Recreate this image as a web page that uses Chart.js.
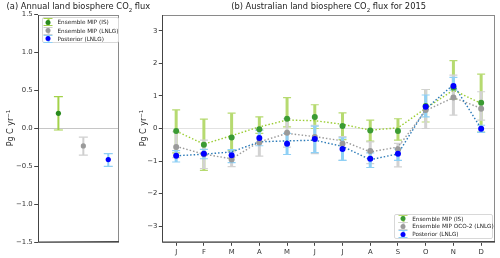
<!DOCTYPE html>
<html lang="en">
<head>
<meta charset="utf-8">
<title>Australian land biosphere CO2 flux</title>
<script src="https://cdn.jsdelivr.net/npm/chart.js"></script>
<style>
  body { margin: 0; background: #fff; font-family: "DejaVu Sans", sans-serif; color: #222; }
  #wrap { position: relative; width: 500px; height: 258px; overflow: hidden; }
  canvas { position: absolute; top: 0; }
  .title { position: absolute; font-size: 8.3px; white-space: nowrap; transform: translate(-50%, -50%); }
  .ylab { position: absolute; font-size: 8px; white-space: nowrap; transform: translate(-50%, -50%) rotate(-90deg); }
  .legend { position: absolute; border: 1px solid #d8d8d8; border-radius: 2px; background: rgba(255,255,255,0.85); box-sizing: border-box; }
  .item { position: absolute; font-size: 5.7px; white-space: nowrap; transform: translateY(-50%); }
  .mk { position: absolute; width: 9px; height: 8px; transform: translate(-50%, -50%); }
  .mk i { position: absolute; display: block; }
</style>
</head>
<body>
<div id="wrap">
  <canvas id="chartA" width="125" height="258" style="left:0"></canvas>
  <canvas id="chartB" width="375" height="258" style="left:125px"></canvas>
  <div class="title" style="left:78.4px;top:6.5px">(a) Annual land biosphere CO<sub style="font-size:5.5px">2</sub> flux</div>
  <div class="title" style="left:328.6px;top:6.5px">(b) Australian land biosphere CO<sub style="font-size:5.5px">2</sub> flux for 2015</div>
  <div class="ylab" style="left:10px;top:128px">Pg C yr<sup style="font-size:5.5px">−1</sup></div>
  <div class="ylab" style="left:143px;top:128px">Pg C yr<sup style="font-size:5.5px">−1</sup></div>
  <div class="legend" id="legA" style="left:41.7px;top:16.7px;width:77px;height:26.6px"></div>
  <div class="legend" id="legB" style="left:394.3px;top:214.3px;width:98.4px;height:25px"></div>
</div>

<script>
// ---- panel (a): annual flux ----
const annualLabels = ['Ensemble MIP (IS)', 'Ensemble MIP (LNLG)', 'Posterior (LNLG)'];
const annualVals = [0.20, -0.23, -0.41];
const annualLo = [-0.02, -0.35, -0.50];
const annualHi = [0.42, -0.115, -0.33];
const annualTicks = [-1.5, -1.0, -0.5, 0.0, 0.5, 1.0, 1.5];

// ---- panel (b): monthly flux 2015 ----
const months = ['J', 'F', 'M', 'A', 'M', 'J', 'J', 'A', 'S', 'O', 'N', 'D'];
const monthlyLabels = ['Ensemble MIP (IS)', 'Ensemble MIP OCO-2 (LNLG)', 'Posterior (LNLG)'];
const isPoint = [-0.08, -0.50, -0.28, -0.02, 0.30, 0.35, 0.08, -0.06, -0.08, 0.69, 1.26, 0.79];
const isLo    = [-0.75, -1.29, -0.67, -0.15, 0.05, 0.00, -0.34, -0.39, -0.36, 0.20, 0.90, -0.11];
const isHi    = [0.57, 0.29, 0.47, 0.36, 0.95, 0.73, 0.48, 0.26, 0.30, 1.20, 2.09, 1.67];
const isLine  = [-0.08, -0.48, -0.22, 0.05, 0.26, 0.24, 0.13, -0.05, 0.02, 0.62, 1.18, 0.77];
const ocoPoint = [-0.57, -0.79, -0.95, -0.43, -0.13, -0.26, -0.47, -0.69, -0.64, 0.57, 0.95, 0.61];
const ocoLo    = [-0.90, -1.23, -1.17, -0.85, -0.57, -0.77, -0.98, -1.08, -1.18, 0.00, 0.41, 0.26];
const ocoHi    = [-0.10, -0.36, -0.72, -0.05, 0.30, 0.10, -0.25, -0.41, -0.46, 1.20, 1.64, 1.13];
const ocoLine  = [-0.55, -0.79, -0.93, -0.41, -0.15, -0.25, -0.38, -0.72, -0.57, 0.55, 0.95, 0.62];
const postPoint = [-0.84, -0.78, -0.82, -0.29, -0.47, -0.32, -0.63, -0.93, -0.78, 0.67, 1.31, -0.01];
const postLo    = [-1.03, -0.93, -1.05, -0.53, -0.80, -0.74, -0.98, -1.20, -0.98, 0.36, 1.18, -0.12];
const postHi    = [-0.68, -0.64, -0.65, -0.05, -0.15, 0.07, -0.29, -0.75, -0.63, 1.03, 1.57, 0.10];
const postLine  = [-0.84, -0.79, -0.72, -0.41, -0.38, -0.36, -0.55, -0.96, -0.78, 0.60, 1.35, 0.00];
const monthlyTicks = [-3, -2, -1, 0, 1, 2, 3];

const FONT = { family: 'DejaVu Sans', size: 6.9 };

function fmt(v, d) {
  const s = Math.abs(v).toFixed(d);
  return (v < 0 ? '\u2212' : '') + s;
}

// error bars drawn behind the points, using the scale of the chart
const errorBars = {
  id: 'errorBars',
  beforeDatasetsDraw(chart) {
    const ctx = chart.ctx;
    const y = chart.scales.y;
    const list = chart.data.datasets.map((ds, i) => [ds, i]).filter(p => p[0].errLo).reverse();
    list.forEach(([ds, i]) => {
      const meta = chart.getDatasetMeta(i);
      ctx.save();
      ctx.strokeStyle = ds.errColor;
      ctx.lineWidth = ds.errWidth;
      meta.data.forEach((pt, j) => {
        const top = y.getPixelForValue(ds.errHi[j]);
        const bot = y.getPixelForValue(ds.errLo[j]);
        const c = ds.capHalf;
        ctx.beginPath();
        ctx.moveTo(pt.x, top); ctx.lineTo(pt.x, bot);
        ctx.stroke();
        ctx.lineWidth = 1.2;
        ctx.beginPath();
        ctx.moveTo(pt.x - c, top); ctx.lineTo(pt.x + c, top);
        ctx.moveTo(pt.x - c, bot); ctx.lineTo(pt.x + c, bot);
        ctx.stroke();
        ctx.lineWidth = ds.errWidth;
      });
      ctx.restore();
    });
  }
};

// box around the axes like matplotlib spines
const frame = {
  id: 'frame',
  afterDraw(chart) {
    const { ctx, chartArea: a } = chart;
    ctx.save();
    ctx.strokeStyle = '#8a8a8a';
    ctx.lineWidth = 1;
    ctx.strokeRect(Math.round(a.left) + 0.5, Math.round(a.top) + 0.5,
      Math.round(a.right - a.left) - 1, Math.round(a.bottom - a.top) - 1);
    ctx.strokeStyle = '#444';
    ctx.beginPath();
    ctx.moveTo(Math.round(a.left) + 0.5, Math.round(a.top));
    ctx.lineTo(Math.round(a.left) + 0.5, Math.round(a.bottom));
    ctx.lineTo(Math.round(a.right), Math.round(a.bottom) - 0.5);
    ctx.stroke();
    ctx.restore();
  }
};

function yAxis(ticks, width, digits, min, max, zeroColor) {
  return {
    min: min, max: max,
    afterFit: s => { s.width = width; },
    afterBuildTicks: s => { s.ticks = ticks.map(v => ({ value: v })); },
    ticks: { font: FONT, color: '#333', padding: 1.5, callback: v => fmt(v, digits) },
    grid: {
      color: c => (c.tick && c.tick.value === 0 ? zeroColor : 'rgba(0,0,0,0)'),
      tickColor: '#444', tickLength: 3.5, lineWidth: 1
    },
    border: { display: false }
  };
}

// panel a
const colA = {
  pt: ['#2a8a1e', '#9a9a9a', '#0000ff'],
  bar: ['#a3d24a', '#cfcfcf', '#8fd0f5']
};
new Chart(document.getElementById('chartA'), {
  type: 'scatter',
  data: {
    datasets: annualLabels.map((lab, k) => ({
      label: lab,
      data: [{ x: k, y: annualVals[k] }],
      errLo: [annualLo[k]], errHi: [annualHi[k]],
      errColor: colA.bar[k], errWidth: 2, capHalf: 4.5,
      backgroundColor: colA.pt[k], borderWidth: 0, pointRadius: 2.6
    })).reverse()
  },
  options: {
    responsive: false, animation: false,
    layout: { padding: { left: 0, right: 6, top: 14.7, bottom: 0 } },
    plugins: { legend: { display: false }, tooltip: { enabled: false } },
    scales: {
      x: {
        type: 'linear', min: -0.83, max: 2.43,
        afterFit: s => { s.height = 15.7; },
        ticks: { display: false }, grid: { display: false }, border: { display: false }
      },
      y: yAxis(annualTicks, 37.7, 1, -1.5, 1.5, '#c6c6c6')
    }
  },
  plugins: [errorBars, frame]
});

// panel b
const colB = {
  pt: ['#3b9b33', '#9a9a9a', '#0000ff'],
  bar: ['#b6da70', '#d2d2d2', '#8fd0f5'],
  line: ['#9acd32', '#9a9a9a', '#2a7ab8']
};
const pts = [isPoint, ocoPoint, postPoint];
const los = [isLo, ocoLo, postLo];
const his = [isHi, ocoHi, postHi];
const lines = [isLine, ocoLine, postLine];

const pointSets = monthlyLabels.map((lab, k) => ({
  label: lab, data: pts[k], showLine: false,
  errLo: los[k], errHi: his[k], errColor: colB.bar[k], errWidth: 3, capHalf: 4,
  backgroundColor: colB.pt[k], borderWidth: 0, pointRadius: 3
})).reverse();
const lineSets = monthlyLabels.map((lab, k) => ({
  label: lab + ' line', data: lines[k], pointRadius: 0,
  borderColor: colB.line[k], borderWidth: 1.4, borderDash: [1.5, 2], fill: false, tension: 0
})).reverse();

new Chart(document.getElementById('chartB'), {
  type: 'line',
  data: { labels: months, datasets: pointSets.concat(lineSets) },
  options: {
    responsive: false, animation: false,
    layout: { padding: { left: 0, right: 5, top: 14.7, bottom: 0 } },
    plugins: { legend: { display: false }, tooltip: { enabled: false } },
    scales: {
      x: {
        offset: true,
        afterFit: s => { s.height = 15.7; },
        ticks: { font: FONT, color: '#333', padding: 2, maxRotation: 0, autoSkip: false },
        grid: { offset: false, drawOnChartArea: false, tickColor: '#444', tickLength: 3.5 },
        border: { display: false }
      },
      y: yAxis(monthlyTicks, 37.3, 0, -3.5, 3.5, '#e2e2e2')
    }
  },
  plugins: [errorBars, frame]
});

// legends
function marker(bar, dot) {
  return '<span class="mk">' +
    '<i style="left:3.5px;top:0;width:2px;height:8px;background:' + bar + '"></i>' +
    '<i style="left:0;top:0;width:9px;height:1px;background:' + bar + '"></i>' +
    '<i style="left:0;top:7px;width:9px;height:1px;background:' + bar + '"></i>' +
    '<i style="left:2px;top:1.5px;width:5px;height:5px;border-radius:50%;background:' + dot + '"></i>' +
    '</span>';
}
function buildLegend(el, labels, cols, rows, mx, tx) {
  let html = '';
  labels.forEach((lab, k) => {
    html += '<div style="position:absolute;left:' + mx + 'px;top:' + rows[k] + 'px">' + marker(cols.bar[k], cols.pt[k]) + '</div>';
    html += '<div class="item" style="left:' + tx + 'px;top:' + rows[k] + 'px">' + lab + '</div>';
  });
  el.innerHTML = html;
}
buildLegend(document.getElementById('legA'), annualLabels, colA, [4.8, 13.1, 21.1], 5.5, 14.8);
buildLegend(document.getElementById('legB'), monthlyLabels, colB, [3.5, 11.2, 19.2], 7.9, 16.9);
</script>
</body>
</html>
